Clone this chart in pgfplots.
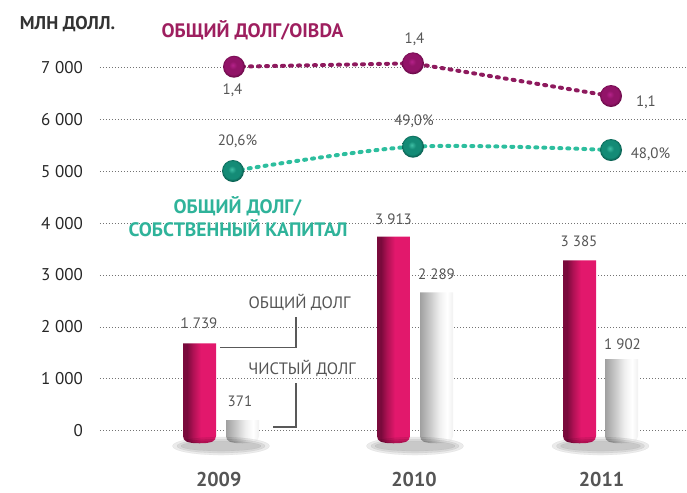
\documentclass[border=0pt]{standalone}
\usepackage{fontspec}
\setmainfont{PT Sans}
\usepackage{pgfplots}
\pgfplotsset{compat=1.18}
\definecolor{pinkD}{HTML}{7A0A3C}
\definecolor{pinkB}{HTML}{E2186C}
\colorlet{pinkMid}{pinkD!50!pinkB}
\definecolor{grayD}{HTML}{A0A0A0}
\definecolor{grayL}{HTML}{F0F0F0}
\definecolor{purp}{HTML}{8E1A5E}
\definecolor{purpHi}{HTML}{B5228A}
\definecolor{purpM}{HTML}{921468}
\definecolor{purpD}{HTML}{6A0A48}
\definecolor{purpT}{HTML}{9E1F5F}
\definecolor{tealL}{HTML}{2DBE9E}
\definecolor{tealT}{HTML}{2FB39A}
\definecolor{tealHi}{HTML}{3FBFA5}
\definecolor{tealM}{HTML}{148B76}
\definecolor{tealD}{HTML}{0A5E50}
\definecolor{txt}{HTML}{555555}
\pgfdeclarehorizontalshading{pinkbar}{100bp}{color(0bp)=(pinkD); color(25bp)=(pinkD); color(31bp)=(pinkD); color(40bp)=(pinkMid); color(52bp)=(pinkB); color(75bp)=(pinkB); color(100bp)=(pinkB)}
\pgfdeclarehorizontalshading{graybar}{100bp}{color(0bp)=(grayD); color(25bp)=(grayD); color(55bp)=(grayL); color(66bp)=(white); color(75bp)=(grayL); color(100bp)=(grayL)}
\pgfdeclareradialshading{purpballsh}{\pgfpoint{-3bp}{4bp}}{color(0bp)=(purpHi); color(9bp)=(purpM); color(20bp)=(purpM); color(25bp)=(purpD); color(50bp)=(purpD)}
\pgfdeclareradialshading{tealballsh}{\pgfpoint{-3bp}{4bp}}{color(0bp)=(tealHi); color(9bp)=(tealM); color(20bp)=(tealM); color(25bp)=(tealD); color(50bp)=(tealD)}
\pgfdeclareplotmark{purpball}{\pgfpathcircle{\pgfpointorigin}{\pgfplotmarksize}\pgfshadepath{purpballsh}{0}\pgfusepath{}}
\pgfdeclareplotmark{tealball}{\pgfpathcircle{\pgfpointorigin}{\pgfplotmarksize}\pgfshadepath{tealballsh}{0}\pgfusepath{}}
\begin{document}
\begin{tikzpicture}
\begin{axis}[
  x=1pt, y=0.0519pt,
  xmin=100, xmax=686, ymin=-300, ymax=7400,
  clip=false,
  axis line style={draw=none},
  major tick length=0pt,
  ytick={0,1000,2000,3000,4000,5000,6000,7000},
  yticklabels={0,1 000,2 000,3 000,4 000,5 000,6 000,7 000},
  yticklabel style={anchor=east, inner sep=0pt, xshift=-17pt, font=\fontsize{17}{17}\selectfont, text=black!85},
  ymajorgrids,
  grid style={draw=black!55, line width=0.7pt, dash pattern=on 0.7pt off 2.3pt},
  xtick={218.7,414,601.5},
  xticklabels={2009,2010,2011},
  xticklabel style={anchor=base, inner sep=0pt, yshift=-40.4pt, font=\bfseries\fontsize{20}{20}\selectfont, text=txt},
]
% soft shadows (layered translucent ellipses)
\addplot[only marks, mark=*, mark size=9pt, mark options={xscale=5.4, fill=black, draw=black, line width=0.2pt, opacity=0.08}]
  coordinates {(221,-295) (415,-295) (600.5,-295)};
\addplot[only marks, mark=*, mark size=7pt, mark options={xscale=6.3, fill=black, draw=black, line width=0.2pt, opacity=0.08}]
  coordinates {(221,-295) (415,-295) (600.5,-295)};
\addplot[only marks, mark=*, mark size=5pt, mark options={xscale=8, fill=black, draw=black, line width=0.2pt, opacity=0.08}]
  coordinates {(221,-295) (415,-295) (600.5,-295)};
% bars: total debt (pink), net debt (gray)
\addplot[shade, shading=pinkbar, draw=none] coordinates {(183,1684) (183,-100) (184,-170) (187,-215) (192,-236) (199.5,-242) (207,-236) (212,-215) (215,-170) (216,-100) (216,1684)} --cycle;
\addplot[shade, shading=graybar, draw=none] coordinates {(226,206) (226,-100) (227,-170) (230,-215) (235,-236) (242.5,-242) (250,-236) (255,-215) (258,-170) (259,-100) (259,206)} --cycle;
\addplot[shade, shading=pinkbar, draw=none] coordinates {(377,3738) (377,-100) (378,-170) (381,-215) (386,-236) (393.5,-242) (401,-236) (406,-215) (409,-170) (410,-100) (410,3738)} --cycle;
\addplot[shade, shading=graybar, draw=none] coordinates {(420,2667) (420,-100) (421,-170) (424,-215) (429,-236) (436.5,-242) (444,-236) (449,-215) (452,-170) (453,-100) (453,2667)} --cycle;
\addplot[shade, shading=pinkbar, draw=none] coordinates {(563,3283) (563,-100) (564,-170) (567,-215) (572,-236) (579.5,-242) (587,-236) (592,-215) (595,-170) (596,-100) (596,3283)} --cycle;
\addplot[shade, shading=graybar, draw=none] coordinates {(605,1381) (605,-100) (606,-170) (609,-215) (614,-236) (621.5,-242) (629,-236) (634,-215) (637,-170) (638,-100) (638,1381)} --cycle;
% bar labels
\node[font=\fontsize{15}{15}\selectfont, text=txt] at (axis cs:199,2075) {1 739};
\node[font=\fontsize{15}{15}\selectfont, text=txt] at (axis cs:240,572) {371};
\node[font=\fontsize{15}{15}\selectfont, text=txt] at (axis cs:393.5,4079) {3 913};
\node[font=\fontsize{15}{15}\selectfont, text=txt] at (axis cs:436.5,3019) {2 289};
\node[font=\fontsize{15}{15}\selectfont, text=txt] at (axis cs:579,3655) {3 385};
\node[font=\fontsize{15}{15}\selectfont, text=txt] at (axis cs:622.5,1671) {1 902};
% callouts
\addplot[black!65, line width=1.2pt, mark=none] coordinates {(220,1599) (296,1599) (296,2197)};
\addplot[black!65, line width=1.2pt, mark=none] coordinates {(273,71) (296,71) (296,925)};
\node[font=\fontsize{16.5}{16.5}\selectfont, text=txt] at (axis cs:299.5,2470) {ОБЩИЙ ДОЛГ};
\node[font=\fontsize{16.5}{16.5}\selectfont, text=txt] at (axis cs:302,1198) {ЧИСТЫЙ ДОЛГ};
% ratio lines
\addplot[purp, line width=4pt, line cap=round, dash pattern=on 2pt off 6pt, mark=purpball, mark size=11pt, mark options={solid}]
  coordinates {(234,7013) (413,7079) (611,6449)};
\addplot[tealL, line width=4pt, line cap=round, dash pattern=on 2pt off 6pt, smooth, tension=0.5, mark=tealball, mark size=11pt, mark options={solid}]
  coordinates {(233,5004) (413,5472) (611,5408)};
\node[font=\fontsize{15}{15}\selectfont, text=txt] at (axis cs:232.5,6565) {1,4};
\node[font=\fontsize{15}{15}\selectfont, text=txt] at (axis cs:414.5,7547) {1,4};
\node[font=\fontsize{15}{15}\selectfont, text=txt] at (axis cs:646,6324) {1,1};
\node[font=\fontsize{15}{15}\selectfont, text=txt] at (axis cs:237.5,5573) {20,6\%};
\node[font=\fontsize{15}{15}\selectfont, text=txt] at (axis cs:414,5967) {49,0\%};
\node[font=\fontsize{15}{15}\selectfont, text=txt] at (axis cs:650.5,5331) {48,0\%};
% titles
\node[font=\bfseries\fontsize{18.5}{18.5}\selectfont, text=black!80] at (axis cs:67.5,7836) {МЛН ДОЛЛ.};
\node[font=\bfseries\fontsize{19.5}{19.5}\selectfont, text=purpT] at (axis cs:252.5,7711) {ОБЩИЙ ДОЛГ/OIBDA};
\node[font=\bfseries\fontsize{19.5}{19.5}\selectfont, text=tealT] at (axis cs:237.5,4320) {ОБЩИЙ ДОЛГ/};
\node[font=\bfseries\fontsize{19.5}{19.5}\selectfont, text=tealT] at (axis cs:238,3896) {СОБСТВЕННЫЙ КАПИТАЛ};
\coordinate (bl) at (axis cs:0,-1181);
\coordinate (tr) at (axis cs:687,8299);
\end{axis}
\pgfresetboundingbox
\path[use as bounding box] (bl) rectangle (tr);
\end{tikzpicture}
\end{document}
